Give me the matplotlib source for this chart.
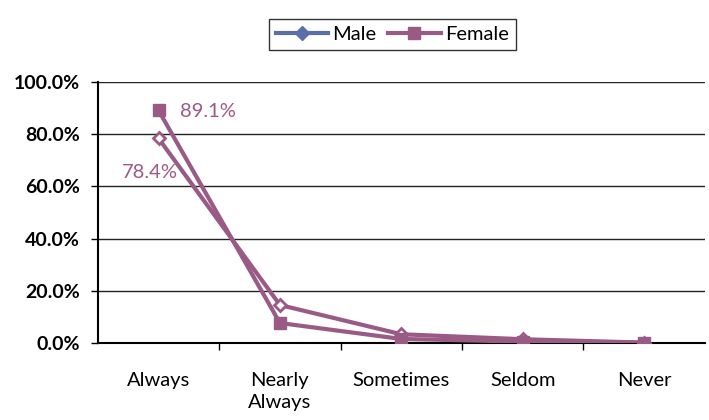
import matplotlib
matplotlib.use("Agg")
import matplotlib.pyplot as plt
from matplotlib.lines import Line2D
from matplotlib.ticker import FuncFormatter

categories = ["Always", "Nearly\nAlways", "Sometimes", "Seldom", "Never"]
male = [78.4, 14.6, 3.4, 1.5, 0.2]
female = [89.1, 7.7, 1.6, 0.6, 0.2]
yticks = [0, 20, 40, 60, 80, 100]

mauve = "#9a5a86"
blue = "#5a6fa8"

plt.rcParams["font.family"] = ["Lato", "DejaVu Sans"]

fig = plt.figure(figsize=(7.09, 4.2), dpi=100)
ax = fig.add_axes([0.138, 0.183, 0.856, 0.622])

x = list(range(len(categories)))
ax.plot(x, male, color=mauve, lw=3, marker="D", ms=6, mfc="white", mec=mauve, mew=2, zorder=3)
ax.plot(x, female, color=mauve, lw=3, marker="s", ms=9, zorder=4)

ax.text(0.18, 88.5, f"{female[0]}%", color=mauve, fontsize=14.5, va="center", ha="left")
ax.text(0.16, 65.5, f"{male[0]}%", color=mauve, fontsize=14.5, va="center", ha="right")

ax.set_xlim(-0.5, 4.5)
ax.set_ylim(0, 100)
ax.set_yticks(yticks)
ax.yaxis.set_major_formatter(FuncFormatter(lambda v, p: f"{v:.1f}%"))
ax.set_xticks(x)
ax.set_xticklabels(categories, fontsize=14.5, linespacing=1.35)
ax.set_xticks([i + 0.5 for i in x[:-1]], minor=True)
ax.tick_params(axis="x", which="major", length=0, pad=21)
ax.tick_params(axis="x", which="minor", length=5, width=1, color="black", direction="out")
ax.tick_params(axis="y", length=5, width=1, labelsize=14, color="black", pad=8)
for lab in ax.get_yticklabels():
    lab.set_fontweight("bold")
ax.grid(axis="y", color="#222222", lw=1)
ax.set_axisbelow(True)
for s in ["top", "right"]:
    ax.spines[s].set_visible(False)
ax.spines["left"].set_linewidth(1.5)
ax.spines["bottom"].set_linewidth(1.5)

handles = [
    Line2D([], [], color=blue, lw=3, marker="D", ms=7),
    Line2D([], [], color=mauve, lw=3, marker="s", ms=8),
]
fig.legend(handles, ["Male", "Female"], loc="center", bbox_to_anchor=(0.553, 0.917),
           ncol=2, frameon=True, fancybox=False, edgecolor="black", fontsize=14.5,
           handlelength=2.6, handletextpad=0.2, columnspacing=0.6, borderpad=0.35)

fig.savefig("out.png", dpi=100)
